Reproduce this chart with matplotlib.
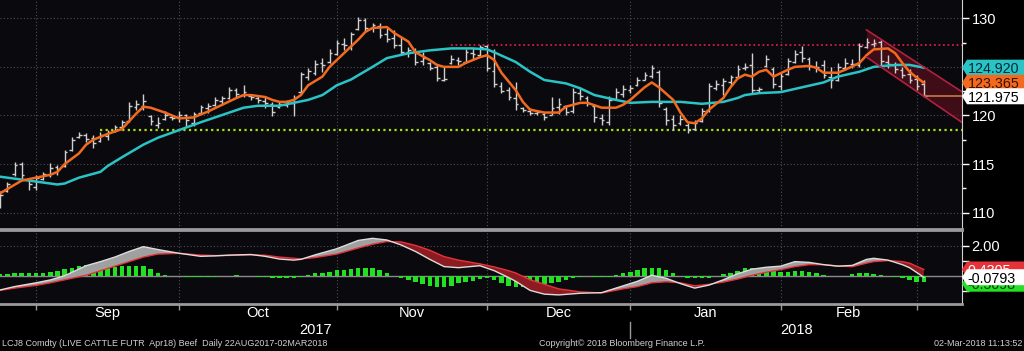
import numpy as np
import pandas as pd
import matplotlib
matplotlib.use("Agg")
import matplotlib.pyplot as plt
from matplotlib.patches import Polygon
from matplotlib.transforms import blended_transform_factory

plt.rcParams['font.family'] = ['Liberation Sans', 'DejaVu Sans']

# trading days shown (first visible bar 25 Aug 2017)
holidays = ['2017-09-04', '2017-11-23', '2017-12-25', '2018-01-01', '2018-01-15', '2018-02-19']
dates = pd.bdate_range('2017-08-25', '2018-03-02')
dates = dates[~dates.isin(pd.to_datetime(holidays))]

highs = [112.2, 113.2, 115.2, 115.2, 113.6, 113.9, 114.2, 115.1, 114.9, 116.4,
         117.8, 118.3, 118.2, 118.0, 118.3, 118.5, 119.0, 119.5, 121.4, 121.6,
         122.2, 120.1, 119.8, 120.5, 120.1, 120.5, 120.2, 120.4, 121.1, 121.3,
         121.9, 122.0, 122.9, 122.8, 123.1, 122.2, 122.0, 122.0, 121.4, 121.5,
         121.6, 122.1, 124.5, 124.9, 125.7, 125.9, 126.8, 127.8, 128.0, 128.6,
         130.1, 130.0, 129.5, 129.5, 129.0, 128.8, 128.1, 127.0, 126.9, 126.5,
         125.5, 125.2, 125.0, 126.2, 126.0, 126.8, 126.9, 127.3, 127.3, 126.8,
         123.4, 122.9, 123.4, 120.9, 120.8, 120.6, 120.4, 121.9, 121.8, 121.1,
         122.8, 122.9, 122.0, 121.2, 120.2, 122.0, 122.8, 123.1, 123.1, 124.0,
         124.5, 125.2, 124.7, 120.9, 120.0, 120.0, 119.2, 119.5, 120.8, 123.3,
         123.7, 123.9, 124.2, 125.2, 125.4, 126.4, 122.9, 126.2, 125.0, 124.4,
         125.9, 126.7, 127.1, 126.0, 125.6, 125.7, 125.0, 125.4, 125.9, 125.8,
         127.5, 128.0, 127.9, 127.8, 126.2, 125.5, 125.0, 124.8, 124.2, 123.6]
lows = [110.5, 112.1, 113.8, 113.5, 112.3, 112.3, 113.4, 113.7, 113.9, 114.7,
        116.3, 117.7, 117.3, 116.7, 117.3, 117.5, 118.3, 118.7, 119.3, 120.6,
        120.6, 119.0, 118.7, 119.5, 119.5, 119.3, 118.8, 118.9, 120.2, 120.3,
        121.0, 121.1, 121.7, 121.9, 121.9, 121.6, 121.3, 120.8, 119.9, 120.8,
        120.9, 119.9, 122.2, 123.7, 124.2, 124.5, 125.4, 126.2, 126.7, 126.7,
        128.8, 128.6, 128.6, 128.0, 127.6, 126.9, 126.2, 126.0, 125.2, 125.2,
        124.7, 123.5, 123.5, 125.3, 125.2, 125.4, 125.7, 126.0, 124.6, 122.9,
        122.3, 121.6, 120.6, 120.4, 120.0, 120.1, 119.5, 120.0, 120.2, 120.0,
        120.3, 121.6, 121.0, 119.3, 119.0, 119.0, 121.6, 121.9, 122.3, 123.0,
        123.6, 123.9, 120.9, 119.0, 118.5, 119.0, 118.2, 118.5, 119.3, 120.4,
        122.6, 122.1, 123.1, 123.9, 124.7, 122.3, 122.4, 125.0, 122.8, 122.6,
        124.2, 125.4, 125.5, 124.7, 124.5, 123.9, 122.8, 123.5, 124.7, 124.9,
        125.0, 126.9, 127.0, 125.2, 124.9, 124.4, 123.9, 123.3, 122.6, 121.9]
opens = [110.8, 112.2, 114.0, 115.0, 113.4, 112.6, 113.5, 113.9, 114.7, 114.8,
         116.4, 117.8, 118.0, 117.7, 117.4, 117.9, 118.4, 118.8, 119.4, 120.9,
         121.0, 119.9, 119.0, 119.6, 119.8, 119.8, 120.0, 119.2, 120.3, 120.8,
         121.1, 121.5, 121.8, 122.6, 122.1, 122.0, 121.8, 121.5, 121.2, 120.9,
         121.1, 121.3, 122.4, 124.0, 124.4, 125.4, 125.5, 126.3, 127.4, 127.0,
         128.9, 129.8, 129.0, 129.2, 128.4, 128.0, 127.3, 126.5, 126.6, 125.6,
         125.4, 125.0, 123.7, 125.4, 125.7, 125.5, 126.4, 126.2, 127.1, 124.6,
         123.0, 122.6, 121.8, 120.8, 120.5, 120.3, 120.2, 120.0, 120.9, 121.0,
         120.5, 122.3, 121.8, 121.0, 119.7, 119.3, 121.7, 122.2, 122.6, 123.1,
         123.7, 124.1, 124.5, 120.7, 119.6, 119.2, 119.0, 118.6, 119.4, 120.6,
         122.8, 123.1, 123.4, 124.0, 124.9, 125.2, 122.6, 125.1, 124.8, 123.0,
         124.3, 125.5, 126.5, 125.8, 125.0, 125.2, 124.0, 123.7, 124.9, 125.3,
         125.2, 127.0, 127.4, 127.6, 125.5, 125.2, 124.7, 124.3, 123.8, 123.2]
closes = [111.8, 113.0, 114.9, 113.9, 113.0, 113.6, 114.0, 114.6, 114.5, 116.2,
          117.5, 118.0, 117.6, 117.2, 118.0, 118.3, 118.8, 119.3, 121.0, 121.2,
          121.5, 119.4, 119.2, 120.0, 119.7, 120.0, 119.5, 120.2, 120.9, 121.0,
          121.6, 121.8, 122.6, 122.2, 122.4, 121.9, 121.6, 121.3, 120.4, 121.2,
          121.4, 121.8, 124.3, 124.6, 125.3, 125.2, 126.4, 127.5, 127.2, 128.4,
          129.8, 129.0, 129.3, 128.3, 127.9, 127.2, 126.5, 126.7, 125.5, 125.9,
          124.9, 123.9, 123.8, 125.8, 125.6, 126.5, 126.3, 127.0, 124.9, 123.2,
          122.5, 121.9, 121.2, 120.6, 120.3, 120.4, 119.8, 120.8, 121.2, 120.4,
          122.4, 122.0, 121.3, 119.8, 119.5, 121.6, 122.4, 122.7, 122.8, 123.7,
          124.2, 124.9, 121.3, 119.5, 119.0, 119.6, 118.5, 119.2, 120.5, 123.0,
          123.2, 123.5, 124.0, 124.8, 125.0, 122.6, 122.7, 125.8, 123.2, 124.1,
          125.6, 126.3, 125.9, 125.1, 125.0, 124.2, 123.6, 125.0, 125.4, 125.3,
          127.1, 127.6, 127.5, 125.6, 125.3, 124.8, 124.2, 123.7, 123.0, 121.975]

# moving averages (trading-day index, value)
fast_idx = [0, 3, 5, 7, 8, 9, 11, 12, 13, 14, 15, 17, 18, 19, 20, 21, 23, 25, 27, 28,
            29, 31, 33, 34, 35, 37, 38, 39, 40, 41, 42, 43, 45, 46, 48, 50, 51, 52, 54, 55,
            57, 58, 60, 61, 62, 64, 65, 67, 68, 69, 70, 72, 73, 74, 76, 78, 79, 81, 82, 84,
            86, 87, 88, 90, 91, 92, 94, 95, 96, 97, 98, 99, 101, 102, 103, 104, 105, 106, 107, 108,
            110, 111, 113, 114, 115, 117, 118, 120, 121, 122, 124, 125, 126, 127, 128, 129]
fast_val = [112.0, 113.3, 113.6, 113.9, 114.2, 115.0, 116.1, 117.0, 117.5, 117.8,
            118.1, 118.6, 119.4, 120.2, 120.9, 120.8, 120.3, 119.7, 119.8, 120.1,
            120.4, 121.1, 121.8, 122.1, 122.1, 121.9, 121.6, 121.4, 121.4, 121.6,
            122.1, 123.1, 124.0, 125.0, 126.4, 127.8, 128.6, 129.0, 129.1, 128.5,
            127.6, 126.5, 125.7, 125.2, 125.0, 125.0, 125.4, 126.0, 126.2, 125.7,
            124.4, 122.6, 121.4, 120.6, 120.3, 120.3, 120.9, 121.3, 121.3, 120.8,
            120.8, 121.1, 121.6, 122.9, 123.4, 122.9, 121.6, 120.3, 119.3, 119.2,
            119.7, 120.6, 121.8, 122.9, 123.8, 124.2, 124.0, 124.5, 124.7, 124.0,
            124.7, 125.0, 125.1, 124.9, 124.4, 124.4, 124.7, 125.4, 126.2, 126.8,
            126.9, 126.4, 125.4, 124.5, 123.9, 123.365]
slow_idx = [0, 3, 6, 8, 9, 11, 14, 15, 17, 20, 22, 25, 28, 31, 34, 36, 39, 41, 43, 45,
            46, 47, 49, 52, 54, 57, 60, 63, 66, 68, 69, 72, 74, 76, 79, 81, 83, 86, 88, 91,
            95, 98, 101, 103, 104, 106, 109, 112, 115, 117, 120, 122, 125, 127, 129]
slow_val = [113.7, 113.4, 113.1, 112.9, 113.0, 113.6, 114.2, 114.8, 115.7, 117.0,
            117.7, 118.5, 119.3, 120.05, 120.8, 121.0, 121.0, 121.3, 121.6, 122.1,
            122.6, 123.1, 123.7, 125.0, 125.9, 126.4, 126.7, 126.9, 126.9, 126.8,
            126.5, 125.5, 124.5, 123.65, 123.3, 122.8, 122.1, 121.6, 121.3, 121.4,
            121.4, 121.2, 121.4, 121.8, 122.1, 122.3, 122.4, 122.9, 123.4, 124.0,
            124.5, 125.0, 125.2, 125.2, 124.92]

resistance = 127.2
resistance_from = 63
support = 118.5
support_from = 14
chan_x = [121.0, 134.3]
chan_top = [128.8, 122.45]
chan_bot = [126.0, 119.3]

# MACD panel
macd_idx = [0, 2, 5, 7, 9, 12, 14, 16, 18, 20, 22, 25, 28, 30, 32, 35, 37, 39, 41, 42,
            44, 47, 50, 52, 54, 56, 58, 60, 62, 64, 67, 69, 71, 72, 74, 76, 78, 81, 84, 87,
            89, 91, 93, 95, 97, 99, 101, 103, 105, 107, 109, 111, 113, 115, 117, 119, 121, 122, 124, 126,
            127, 129]
macd_val = [-0.92, -0.70, -0.45, -0.26, 0.02, 0.68, 0.95, 1.25, 1.62, 1.94,
            1.75, 1.50, 1.30, 1.33, 1.38, 1.42, 1.30, 1.12, 1.05, 1.10,
            1.40, 1.80, 2.35, 2.49, 2.38, 2.05, 1.62, 1.10, 0.62, 0.55,
            0.68, 0.35, -0.10, -0.35, -0.95, -1.20, -1.25, -1.14, -1.10, -0.65,
            -0.35, 0.05, -0.15, -0.50, -0.80, -0.60, -0.25, 0.15, 0.45, 0.58,
            0.65, 0.95, 0.90, 0.75, 0.65, 0.70, 1.10, 1.17, 1.05, 0.75,
            0.55, -0.0793]
signal_val = [-0.95, -0.80, -0.62, -0.45, -0.25, 0.05, 0.35, 0.65, 0.95, 1.25,
              1.45, 1.50, 1.38, 1.35, 1.36, 1.40, 1.37, 1.25, 1.17, 1.13,
              1.22, 1.45, 1.85, 2.10, 2.28, 2.25, 2.02, 1.70, 1.28, 1.05,
              0.80, 0.60, 0.35, 0.20, -0.25, -0.55, -0.85, -1.05, -1.12, -0.85,
              -0.70, -0.45, -0.38, -0.45, -0.65, -0.55, -0.40, -0.20, 0.05, 0.25,
              0.42, 0.62, 0.75, 0.75, 0.66, 0.62, 0.85, 0.95, 1.02, 0.95,
              0.85, 0.4305]
hist_val = [0.12, 0.15, 0.18, 0.22, 0.22, 0.22, 0.22, 0.29, 0.33, 0.44,
            0.55, 0.68, 0.73, 0.73, 0.62, 0.62, 0.62, 0.66, 0.66, 0.66,
            0.66, 0.44, 0.18, 0.07, 0.03, -0.03, -0.09, -0.09, -0.09, -0.07,
            -0.04, -0.02, 0.03, 0.07, 0.03, 0.0, -0.04, -0.07, -0.11, -0.15,
            -0.15, -0.15, -0.05, 0.07, 0.18, 0.22, 0.29, 0.40, 0.40, 0.44,
            0.51, 0.51, 0.51, 0.40, 0.22, 0.0, -0.11, -0.26, -0.42, -0.53,
            -0.64, -0.70, -0.70, -0.64, -0.48, -0.37, -0.30, -0.22, -0.15, -0.26,
            -0.48, -0.64, -0.70, -0.70, -0.70, -0.64, -0.55, -0.48, -0.42, -0.26,
            -0.11, -0.04, -0.01, -0.05, -0.09, -0.04, 0.07, 0.18, 0.29, 0.40,
            0.51, 0.55, 0.55, 0.40, 0.18, 0.0, -0.11, -0.15, -0.15, -0.11,
            0.0, 0.11, 0.22, 0.33, 0.51, 0.55, 0.51, 0.44, 0.40, 0.29,
            0.29, 0.33, 0.33, 0.29, 0.18, 0.07, 0.02, 0.01, 0.03, 0.11,
            0.18, 0.22, 0.15, 0.05, -0.03, -0.09, -0.15, -0.26, -0.37, -0.42]
hist_last = -0.5098

BG = '#0a0a0e'
GRID = '#4d4d57'
W, H = 1024, 351

fig = plt.figure(figsize=(W / 100, H / 100), dpi=100, facecolor='black')
ax = fig.add_axes([0, 122 / H, 962 / W, 229 / H], facecolor=BG)
ax2 = fig.add_axes([0, 47 / H, 962 / W, 74 / H], facecolor=BG)

xs = np.arange(len(closes))
month_starts = [i for i in range(1, len(dates)) if dates[i].month != dates[i - 1].month]
xlim = (-0.03, 134.33)

# ---- price panel
for yv in [110, 115, 120, 125, 130]:
    ax.axhline(yv, color=GRID, lw=0.8, ls=(0, (1, 2)), zorder=1)
for m in month_starts:
    ax.axvline(m, color=GRID, lw=0.8, ls=(0, (1, 2)), zorder=1)

ax.vlines(xs, lows, highs, color='#cfcfcf', lw=1, zorder=3)
ax.hlines(opens, xs - 0.38, xs, color='#cfcfcf', lw=1, zorder=3)
ax.hlines(closes, xs, xs + 0.38, color='#cfcfcf', lw=1, zorder=3)

ax.plot(slow_idx, slow_val, color='#2ac3c6', lw=1.8, zorder=4)
ax.plot(fast_idx, fast_val, color='#f36a1f', lw=1.8, zorder=5)
ax.plot([xs[-1], xlim[1]], [closes[-1], closes[-1]], color='#c87a45', lw=1.2, zorder=4)

ax.plot([resistance_from, xlim[1]], [resistance, resistance], color='#d21c44', lw=1.3,
        ls=(0, (1, 1.5)), zorder=2)
ax.plot([support_from, xlim[1]], [support, support], color='#a6e012', lw=1.6,
        ls=(0, (1, 1.5)), zorder=2)

ax.fill_between(chan_x, chan_bot, chan_top, color='#6b1022', alpha=0.55, lw=0, zorder=2)
ax.plot(chan_x, chan_top, color='#b3203f', lw=1.2, zorder=6)
ax.plot(chan_x, chan_bot, color='#b3203f', lw=1.2, zorder=6)

ax.set_xlim(*xlim)
ax.set_ylim(108.32, 131.88)
ax.yaxis.tick_right()
ax.set_yticks([110, 115, 120, 125, 130])
ax.set_yticks([112.5, 117.5, 122.5, 127.5], minor=True)
ax.tick_params(axis='y', which='both', colors='white', labelsize=10.5, length=5, width=1, pad=2)
ax.tick_params(axis='y', which='minor', length=3)
ax.set_xticks([])
for s in ['top', 'left']:
    ax.spines[s].set_visible(False)
ax.spines['right'].set_color('#d0d0d0')
ax.spines['bottom'].set_color('#9a9a9a')
ax.spines['bottom'].set_linewidth(2)

# ---- MACD panel
ax2.axhline(2.0, color=GRID, lw=0.8, ls=(0, (1, 2)), zorder=1)
for m in month_starts:
    ax2.axvline(m, color=GRID, lw=0.8, ls=(0, (1, 2)), zorder=1)
ax2.axhline(0, color='#8a8a8a', lw=1, zorder=2)
ax2.bar(xs, hist_val, width=0.62, color='#22e022', zorder=3)

mi = np.array(macd_idx)
mv = np.array(macd_val)
sv = np.array(signal_val)
ax2.fill_between(mi, mv, sv, where=mv >= sv, interpolate=True, color='#a0a0a0', lw=0, zorder=4)
ax2.fill_between(mi, mv, sv, where=mv < sv, interpolate=True, color='#8c1c22', lw=0, zorder=4)
ax2.plot(mi, sv, color='#e8323a', lw=1, zorder=5)
ax2.plot(mi, mv, color='#dcdcdc', lw=1, zorder=5)

ax2.set_xlim(*xlim)
ax2.set_ylim(-1.85, 3.04)
ax2.yaxis.tick_right()
ax2.set_yticks([-1, 0, 1, 2])
ax2.set_yticklabels(['', '', '', '2.00'])
ax2.tick_params(axis='y', colors='white', labelsize=10.5, length=5, width=1, pad=2)
ax2.set_xticks(month_starts)
ax2.set_xticklabels([])
ax2.tick_params(axis='x', colors='#9a9a9a', length=4, width=1)
ax2.spines['left'].set_visible(False)
for s in ['top', 'bottom']:
    ax2.spines[s].set_color('#9a9a9a')
    ax2.spines[s].set_linewidth(2)
ax2.spines['right'].set_color('#d0d0d0')

# month / year labels (only full months get a name)
tr = blended_transform_factory(ax2.transData, ax2.transAxes)
for a, b in zip(month_starts[:-1], month_starts[1:]):
    ax2.text((a + b) / 2, -0.12, dates[a].strftime('%b'), transform=tr, color='white',
             fontsize=10.5, ha='center', va='center')
year_break = [m for m in month_starts if dates[m].month == 1][0]
ax2.text((xlim[0] + year_break) / 2, -0.35, '2017', transform=tr, color='white',
         fontsize=10.5, ha='center', va='center')
ax2.text((year_break + xlim[1]) / 2, -0.35, '2018', transform=tr, color='white',
         fontsize=10.5, ha='center', va='center')
ax2.plot([year_break, year_break], [-0.24, -0.46], transform=tr, color='#9a9a9a',
         lw=1, clip_on=False)


# ---- value tags on the right
def tag(axis, val, txt, fc, tc, z):
    y = axis.transData.transform((0, val))[1]
    x0 = axis.transAxes.transform((1, 0))[0]
    h = 8
    pts = [(x0, y), (x0 + 5, y + h), (W, y + h), (W, y - h), (x0 + 5, y - h)]
    pts = [(px / W, py / H) for px, py in pts]
    fig.add_artist(Polygon(pts, closed=True, fc=fc, ec='none',
                           transform=fig.transFigure, zorder=z))
    fig.text((x0 + 5.5) / W, y / H, txt, color=tc, fontsize=10.3, ha='left',
             va='center_baseline', zorder=z + 0.5)


tag(ax, slow_val[-1], f'{slow_val[-1]:.3f}', '#2ac3c6', '#062a33', 6)
tag(ax, fast_val[-1], f'{fast_val[-1]:.3f}', '#f36a1f', '#3a1200', 7)
tag(ax, closes[-1], f'{closes[-1]:.3f}', 'white', 'black', 8)
tag(ax2, signal_val[-1], f'{signal_val[-1]:.4f}', '#e8323a', 'white', 6)
tag(ax2, hist_last, f'{hist_last:.4f}', '#22e022', '#003300', 7)
tag(ax2, macd_val[-1], f'{macd_val[-1]:.4f}', 'white', 'black', 8)

# footer
fig.text(2 / W, 7 / H, 'LCJ8 Comdty (LIVE CATTLE FUTR  Apr18) Beef  Daily 22AUG2017-02MAR2018',
         color='#d0d0d0', fontsize=6.5, ha='left', va='center')
fig.text(539 / W, 7 / H, 'Copyright\u00a9 2018 Bloomberg Finance L.P.', color='#d0d0d0',
         fontsize=6.5, ha='left', va='center')
fig.text(1022 / W, 7 / H, '02-Mar-2018 11:13:52', color='#d0d0d0', fontsize=6.5,
         ha='right', va='center')

fig.savefig('out.png', dpi=100, facecolor='black')
